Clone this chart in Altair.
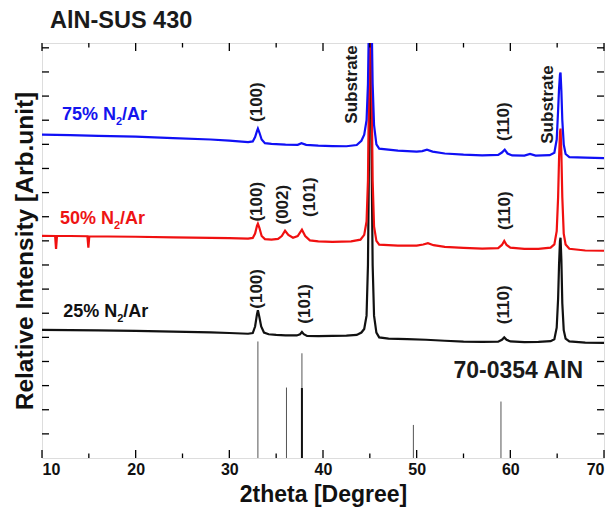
import altair as alt
import pandas as pd

# ---------------- data ----------------
# (2theta, relative intensity with stacking offset)
trace_25 = [(10, 5.31), (13, 5.30), (16, 5.29), (20, 5.27), (24, 5.24), (28, 5.21), (30, 5.18), (32, 5.15),
            (32.5, 5.18), (32.75, 5.45), (32.95, 5.95), (33.05, 6.12), (33.2, 5.85), (33.4, 5.45), (33.7, 5.2),
            (34.2, 5.13), (35, 5.1), (36, 5.08), (37.2, 5.08), (37.55, 5.13), (37.75, 5.22), (37.95, 5.13),
            (38.3, 5.06), (39.5, 5.05), (41, 5.06), (42.5, 5.07), (43.6, 5.1), (44.1, 5.2), (44.4, 5.35),
            (44.65, 5.9), (44.8, 8.0), (44.9, 12.0), (45.05, 22.0), (45.2, 12.0), (45.3, 8.0), (45.45, 5.9),
            (45.7, 5.2), (46.0, 5.0), (47, 4.95), (49, 4.93), (51, 4.9), (53, 4.86), (55, 4.82), (57, 4.81),
            (58.7, 4.82), (59.1, 4.9), (59.35, 5.0), (59.6, 4.9), (60, 4.83), (61.5, 4.8), (63, 4.81),
            (64.3, 4.84), (64.7, 4.92), (64.95, 5.4), (65.1, 6.6), (65.2, 8.0), (65.3, 9.0), (65.36, 9.13),
            (65.45, 8.2), (65.55, 6.4), (65.7, 5.3), (65.9, 4.95), (66.3, 4.83), (68, 4.78), (70, 4.77)]

trace_50 = [(10, 9.21), (11.4, 9.2), (11.5, 8.67), (11.6, 9.2), (13, 9.2), (14.85, 9.19), (14.95, 8.72),
            (15.05, 9.19), (17, 9.18), (20, 9.17), (24, 9.14), (28, 9.12), (30, 9.11), (32, 9.09),
            (32.5, 9.12), (32.75, 9.3), (32.95, 9.62), (33.05, 9.71), (33.2, 9.55), (33.45, 9.2),
            (33.8, 9.07), (34.5, 9.05), (35.2, 9.08), (35.6, 9.2), (35.95, 9.42), (36.3, 9.25), (36.8, 9.13),
            (37.3, 9.2), (37.75, 9.46), (38.1, 9.2), (38.6, 9.02), (39.5, 8.98), (41, 8.96), (43, 8.98),
            (44, 9.05), (44.4, 9.25), (44.65, 9.8), (44.8, 11.5), (44.9, 15.0), (45.05, 25.0), (45.2, 15.0),
            (45.3, 11.5), (45.45, 9.6), (45.7, 9.0), (46, 8.84), (48, 8.8), (50, 8.8), (50.7, 8.85),
            (51.2, 8.9), (51.8, 8.82), (53, 8.75), (55, 8.71), (57, 8.68), (58.7, 8.7), (59.1, 8.83),
            (59.35, 9.0), (59.6, 8.83), (60, 8.72), (61.5, 8.67), (63, 8.67), (64.3, 8.72), (64.7, 8.85),
            (64.95, 9.4), (65.1, 10.8), (65.2, 12.4), (65.3, 13.5), (65.36, 13.65), (65.45, 12.6),
            (65.55, 10.8), (65.7, 9.3), (65.9, 8.85), (66.3, 8.67), (68, 8.6), (70, 8.59)]

trace_75 = [(10, 13.4), (13, 13.38), (16, 13.35), (20, 13.32), (24, 13.26), (28, 13.2), (30, 13.15),
            (32, 13.09), (32.5, 13.12), (32.75, 13.3), (32.95, 13.55), (33.05, 13.65), (33.2, 13.5),
            (33.45, 13.2), (33.8, 13.05), (34.5, 13.02), (36, 12.99), (37.3, 12.98), (37.7, 13.05),
            (38.2, 12.98), (39.5, 12.95), (41, 12.93), (42.5, 12.92), (43.6, 12.97), (44.1, 13.15),
            (44.4, 13.4), (44.65, 14.0), (44.8, 15.5), (44.9, 18.0), (45.05, 25.0), (45.2, 18.0),
            (45.3, 15.5), (45.45, 13.8), (45.7, 13.0), (46, 12.82), (48, 12.74), (50, 12.7), (50.6, 12.72),
            (51.1, 12.78), (51.7, 12.7), (53, 12.62), (55, 12.57), (57, 12.54), (58.7, 12.56), (59.1, 12.66),
            (59.4, 12.78), (59.7, 12.62), (60.2, 12.54), (61.5, 12.53), (62.1, 12.6), (62.7, 12.53),
            (64.2, 12.55), (64.7, 12.65), (64.95, 13.2), (65.1, 14.4), (65.2, 15.3), (65.3, 15.9),
            (65.36, 15.98), (65.45, 15.2), (65.55, 14.0), (65.7, 13.0), (65.9, 12.6), (66.3, 12.47),
            (68, 12.45), (70, 12.43)]

# reference pattern 70-0354 AlN
stick_pos = [33.05, 36.1, 37.75, 49.65, 59.0]
stick_height = [4.83, 2.92, 4.34, 1.37, 2.34]
stick_dark_pos = [37.75]
stick_dark_height = [2.9]

# peak annotations
peak_text = ["(100)", "Substrate", "(110)", "Substrate",
             "(100)", "(002)", "(101)", "(110)",
             "(100)", "(101)", "(110)"]
peak_x = [32.95, 43.1, 59.32, 64.0, 32.95, 35.73, 38.6, 59.43, 32.95, 38.08, 59.32]
peak_y = [14.75, 15.48, 13.94, 14.65, 10.62, 10.5, 10.81, 10.25, 7.01, 6.39, 6.35]

series_prefix = ["75% N", "50% N", "25% N"]
series_x = [12.14, 11.92, 12.27]
series_y = [14.02, 9.71, 5.86]
series_color = ["#1414ee", "#ee1414", "#111111"]

x_major = [10, 20, 30, 40, 50, 60, 70]
x_minor = [15, 25, 35, 45, 55, 65]
y_ticks = list(range(1, 18))

# ---------------- chart ----------------
W, H = 562, 415
FONT = "Liberation Sans"
xs = alt.Scale(domain=[10, 70], nice=False, zero=False)
ys = alt.Scale(domain=[0, 17.2], nice=False, zero=False)

xaxis = alt.Axis(values=x_major, ticks=False, tickSize=0, domain=False, grid=False,
                 labelFont=FONT, labelFontWeight="bold", labelFontSize=16, labelColor="#111111",
                 labelPadding=3, title="2theta [Degree]", titleFont=FONT, titleFontSize=23,
                 titleFontWeight="bold", titleColor="#111111", titleY=43, titleBaseline="alphabetic")
yaxis = alt.Axis(labels=False, ticks=False, domain=False, grid=False,
                 title="Relative Intensity [Arb.unit]", titleFont=FONT, titleFontSize=24.5,
                 titleFontWeight="bold", titleColor="#111111", titleAngle=270, titleX=-10,
                 titleY=H / 2, titleBaseline="alphabetic", titleAlign="center")


def X(f):
    return alt.X(f, scale=xs, axis=xaxis)


def Y(f):
    return alt.Y(f, scale=ys, axis=yaxis)


def trace(points, color):
    df = pd.DataFrame(points, columns=["x", "y"])
    return alt.Chart(df).mark_line(color=color, strokeWidth=2.2, clip=True).encode(
        x=X("x:Q"), y=Y("y:Q"), order="x:Q")


sticks = alt.Chart(pd.DataFrame({"sx": stick_pos, "sb": [0] * len(stick_pos), "sh": stick_height})).mark_rule(
    color="#555555", strokeWidth=1).encode(x=X("sx:Q"), y=Y("sb:Q"), y2="sh:Q")
sticks_dark = alt.Chart(pd.DataFrame({"sx": stick_dark_pos, "sb": [0], "sh": stick_dark_height})).mark_rule(
    color="#111111", strokeWidth=2).encode(x=X("sx:Q"), y=Y("sb:Q"), y2="sh:Q")

tx_major = pd.DataFrame({"v": x_major})
tx_minor = pd.DataFrame({"v": x_minor})
ty = pd.DataFrame({"v": y_ticks})
tick_layers = [
    alt.Chart(tx_major).mark_rule(color="black", strokeWidth=1.3).encode(
        x=X("v:Q"), y=alt.value(H), y2=alt.value(H - 8)),
    alt.Chart(tx_major).mark_rule(color="black", strokeWidth=1.3).encode(
        x=X("v:Q"), y=alt.value(0), y2=alt.value(8)),
    alt.Chart(tx_minor).mark_rule(color="black", strokeWidth=1.3).encode(
        x=X("v:Q"), y=alt.value(H), y2=alt.value(H - 4.5)),
    alt.Chart(tx_minor).mark_rule(color="black", strokeWidth=1.3).encode(
        x=X("v:Q"), y=alt.value(0), y2=alt.value(4.5)),
    alt.Chart(ty).mark_rule(color="black", strokeWidth=1.3).encode(
        y=Y("v:Q"), x=alt.value(0), x2=alt.value(7)),
    alt.Chart(ty).mark_rule(color="black", strokeWidth=1.3).encode(
        y=Y("v:Q"), x=alt.value(W), x2=alt.value(W - 7)),
]

peaks = alt.Chart(pd.DataFrame({"t": peak_text, "px": peak_x, "py": peak_y})).mark_text(
    angle=270, align="center", baseline="middle", font=FONT, fontSize=17, fontWeight="bold",
    color="#1a1a1a").encode(x=X("px:Q"), y=Y("py:Q"), text="t:N")

sdf = pd.DataFrame({"pre": series_prefix, "lx": series_x, "ly": series_y, "c": series_color,
                    "sub": ["2"] * 3, "post": ["/Ar"] * 3})
lab_base = alt.Chart(sdf)
lab1 = lab_base.mark_text(align="left", baseline="alphabetic", font=FONT, fontSize=18,
                          fontWeight="bold").encode(x=X("lx:Q"), y=Y("ly:Q"), text="pre:N",
                                                    color=alt.Color("c:N", scale=None))
lab2 = lab_base.mark_text(align="left", baseline="alphabetic", font=FONT, fontSize=11,
                          fontWeight="bold", dx=54, dy=5).encode(x=X("lx:Q"), y=Y("ly:Q"), text="sub:N",
                                                                 color=alt.Color("c:N", scale=None))
lab3 = lab_base.mark_text(align="left", baseline="alphabetic", font=FONT, fontSize=18,
                          fontWeight="bold", dx=60).encode(x=X("lx:Q"), y=Y("ly:Q"), text="post:N",
                                                           color=alt.Color("c:N", scale=None))

ref_label = alt.Chart(pd.DataFrame({"t": ["70-0354 AlN"], "rx": [67.76], "ry": [3.31]})).mark_text(
    align="right", baseline="alphabetic", font=FONT, fontSize=23, fontWeight="bold",
    color="#1a1a1a").encode(x=X("rx:Q"), y=Y("ry:Q"), text="t:N")

title = alt.Chart(pd.DataFrame({"t": ["AlN-SUS 430"], "tx": [10.85]})).mark_text(
    align="left", baseline="alphabetic", font=FONT, fontSize=23.5, fontWeight="bold",
    color="#1a1a1a").encode(text="t:N", x=X("tx:Q"), y=alt.value(-15.5))

chart = alt.layer(
    sticks, sticks_dark,
    trace(trace_25, "#111111"), trace(trace_50, "#f01010"), trace(trace_75, "#1010f5"),
    *tick_layers, peaks, lab1, lab2, lab3, ref_label, title
).properties(
    width=W, height=H,
    padding={"left": 34, "top": 35, "right": 3, "bottom": 52},
    autosize=alt.AutoSizeParams(type="none"),
).configure_view(stroke="black", strokeWidth=2).configure(background="white")

chart.save("out.html", embed_options={"renderer": "svg", "actions": False})
